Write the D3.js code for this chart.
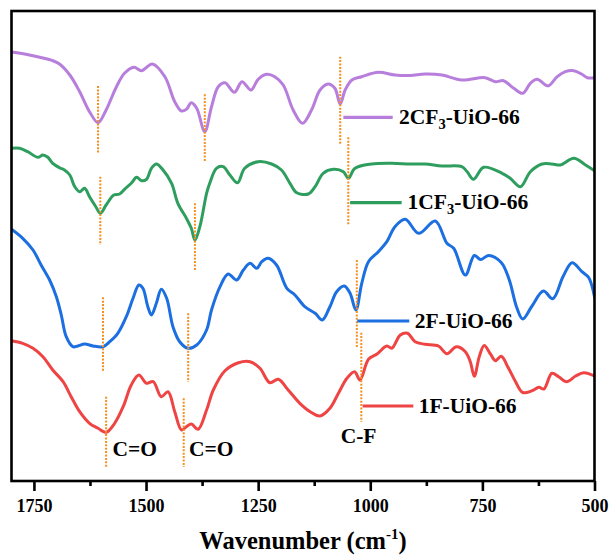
<!DOCTYPE html>
<html>
<head>
<meta charset="utf-8">
<script src="https://cdn.jsdelivr.net/npm/d3@7/dist/d3.min.js"></script>
<style>
  html, body { margin: 0; padding: 0; background: #fff; }
  svg { display: block; }
  text { font-family: "Liberation Serif", "Times New Roman", serif; font-weight: bold; fill: #000; }
</style>
</head>
<body>
<svg id="chart" width="613" height="558"></svg>
<script>
// FTIR spectra (stacked, transmittance a.u.) — [wavenumber cm^-1, value]
const spec2CF3 = [
  [1800,4.29],[1760,4.26],[1708,4.203],[1693,4.17],[1670,4.06],[1648,3.893],[1626,3.693],[1607,3.583],
  [1589,3.71],[1566,3.943],[1548,4.077],[1527,4.137],[1510,4.103],[1486,4.17],[1458,4.043],[1436,3.793],
  [1421,3.70],[1410,3.717],[1399,3.783],[1387,3.727],[1369,3.493],[1354,3.743],[1339,3.943],[1324,3.983],
  [1303,3.887],[1286,3.993],[1266,3.91],[1250,4.017],[1231,4.067],[1213,4.043],[1194,3.96],[1172,3.71],
  [1151,3.577],[1131,3.71],[1112,3.91],[1094,3.97],[1079,3.927],[1067,3.77],[1056,3.91],[1041,4.01],
  [1019,4.043],[982,4.087],[945,4.06],[911,4.055],[878,4.07],[840,4.06],[796,4.01],[744,4.033],
  [721,3.993],[703,4.003],[680,3.927],[660,3.877],[643,3.977],[628,4.017],[609,3.96],[602,3.953],
  [583,4.043],[565,4.093],[546,4.103],[528,4.067],[516,4.033],[500,4.033]
];
const spec1CF3 = [
  [1800,3.327],[1782,3.327],[1764,3.293],[1741,3.237],[1730,3.26],[1719,3.237],[1708,3.177],[1693,3.133],
  [1682,3.11],[1670,3.06],[1659,2.943],[1648,2.893],[1637,2.927],[1626,2.843],[1612,2.743],[1602,2.677],
  [1589,2.76],[1572,2.86],[1559,2.87],[1548,2.917],[1533,2.977],[1521,3.037],[1510,3.003],[1499,3.017],
  [1488,3.127],[1477,3.17],[1462,3.11],[1443,2.977],[1429,2.777],[1410,2.627],[1399,2.527],[1391,2.41],
  [1380,2.543],[1365,2.877],[1358,2.977],[1343,3.127],[1328,3.143],[1313,3.06],[1296,2.983],[1280,3.127],
  [1250,3.193],[1220,3.17],[1198,3.11],[1179,2.977],[1164,2.883],[1138,2.87],[1123,2.943],[1105,3.077],
  [1082,3.117],[1060,3.093],[1049,3.027],[1034,3.127],[997,3.17],[952,3.177],[911,3.17],[878,3.17],
  [840,3.15],[796,3.143],[784,3.093],[770,3.017],[747,3.137],[706,3.077],[688,3.027],[665,2.943],
  [643,3.093],[617,3.17],[595,3.17],[576,3.16],[546,3.227],[520,3.16],[500,3.103]
];
const spec2F = [
  [1800,2.517],[1775,2.427],[1752,2.31],[1734,2.16],[1715,2.01],[1700,1.843],[1689,1.66],[1678,1.443],
  [1663,1.343],[1652,1.35],[1637,1.37],[1618,1.35],[1596,1.343],[1581,1.393],[1563,1.477],[1544,1.643],
  [1529,1.827],[1516,1.96],[1507,1.927],[1496,1.743],[1488,1.66],[1477,1.777],[1466,1.917],[1454,1.827],
  [1440,1.543],[1425,1.393],[1406,1.327],[1387,1.36],[1365,1.51],[1354,1.71],[1335,1.943],[1317,2.07],
  [1298,2.01],[1283,2.11],[1268,2.177],[1253,2.127],[1242,2.193],[1228,2.227],[1209,2.16],[1186,1.927],
  [1168,1.86],[1146,1.743],[1123,1.677],[1107,1.61],[1090,1.743],[1075,1.893],[1058,1.95],[1045,1.877],
  [1032,1.71],[1019,1.977],[1004,2.193],[982,2.293],[963,2.393],[945,2.543],[922,2.617],[892,2.477],
  [855,2.60],[829,2.377],[814,2.327],[788,2.06],[768,2.255],[754,2.215],[736,2.255],[708,2.185],
  [690,2.01],[674,1.743],[660,1.62],[640,1.745],[614,1.90],[593,1.822],[570,2.045],[550,2.183],
  [528,2.093],[513,2.035],[500,1.843]
];
const spec1F = [
  [1800,1.403],[1775,1.377],[1752,1.327],[1730,1.243],[1708,1.11],[1685,0.993],[1667,0.843],[1648,0.693],
  [1626,0.577],[1607,0.527],[1589,0.487],[1570,0.577],[1551,0.743],[1533,0.96],[1516,1.06],[1499,0.977],
  [1484,0.993],[1466,0.843],[1451,0.893],[1436,0.693],[1421,0.51],[1410,0.543],[1399,0.57],[1384,0.517],
  [1365,0.71],[1350,0.91],[1324,1.103],[1294,1.183],[1268,1.193],[1246,1.127],[1224,0.983],[1205,1.017],
  [1183,0.91],[1157,0.777],[1134,0.693],[1112,0.65],[1090,0.727],[1071,0.877],[1052,1.027],[1035,1.093],
  [1023,1.01],[1004,1.217],[985,1.27],[963,1.35],[952,1.327],[933,1.46],[917,1.477],[900,1.393],
  [878,1.367],[848,1.35],[829,1.273],[808,1.343],[788,1.293],[777,1.193],[768,1.047],[757,1.243],
  [746,1.355],[732,1.27],[721,1.203],[708,1.247],[692,1.13],[676,0.993],[660,0.885],[639,0.903],
  [624,0.937],[613,0.92],[595,1.077],[580,1.043],[562,0.993],[542,1.05],[524,1.083],[500,1.05]
];

const seriesNames = ["2CF3-UiO-66", "1CF3-UiO-66", "2F-UiO-66", "1F-UiO-66"];
const seriesColors = ["#B77EDC", "#2E9E5E", "#1C6FE0", "#EE4444"];

// Band markers: [wavenumber, upper value, lower value]
const bandMarks = [
  [1607,3.95,3.277],[1369,3.867,3.193],[1067,4.243,3.36],
  [1602,3.043,2.36],[1391,2.777,2.11],[1049,3.437,2.56],
  [1596,1.837,1.103],[1406,1.677,0.993],[1030,2.21,1.327],
  [1589,0.843,0.14],[1416,0.827,0.14],[1020,1.483,0.593]
];

// Inline legend: line from..to (wavenumber), line level, text start, text baseline
const legendLines = [
  [1060, 950, 3.637, 936, 3.57],
  [1045, 930, 2.783, 917, 2.717],
  [1029, 913, 1.60, 901, 1.527],
  [1017, 904, 0.75, 892, 0.677]
];

// Band assignment labels: [text, wavenumber, baseline value]
const bandLabels = [["C=O", 1575, 0.25], ["C=O", 1404, 0.25], ["C-F", 1066, 0.377]];

const majorTicks = [1750, 1500, 1250, 1000, 750, 500];
const minorTicks = [1625, 1375, 1125, 875, 625];

const svg = d3.select("#chart");
const box = { left: 11.5, right: 594.5, top: 11, bottom: 481 };

const x = d3.scaleLinear().domain([1800, 500]).range([box.left, box.right]);
const y = d3.scaleLinear().domain([0, 4.7]).range([box.bottom, box.top]);

const line = d3.line()
  .x(d => x(d[0]))
  .y(d => y(d[1]))
  .curve(d3.curveCatmullRom.alpha(0.5));

svg.append("defs").append("clipPath").attr("id", "plotclip")
  .append("rect").attr("x", box.left).attr("y", box.top)
  .attr("width", box.right - box.left).attr("height", box.bottom - box.top);

const plot = svg.append("g").attr("clip-path", "url(#plotclip)");

[spec2CF3, spec1CF3, spec2F, spec1F].forEach((s, i) => {
  plot.append("path")
    .datum(s)
    .attr("d", line)
    .attr("fill", "none")
    .attr("stroke", seriesColors[i])
    .attr("stroke-width", 3)
    .attr("stroke-linejoin", "round")
    .attr("stroke-linecap", "round");
});

// Dotted band markers
svg.append("g").selectAll("line").data(bandMarks).join("line")
  .attr("x1", d => x(d[0])).attr("x2", d => x(d[0]))
  .attr("y1", d => y(d[1])).attr("y2", d => y(d[2]))
  .attr("stroke", "#F58F1E")
  .attr("stroke-width", 2)
  .attr("stroke-dasharray", "2,1.4");

// Inline legend entries
const leg = svg.append("g");
legendLines.forEach((d, i) => {
  leg.append("line")
    .attr("x1", x(d[0])).attr("x2", x(d[1]))
    .attr("y1", y(d[2])).attr("y2", y(d[2]))
    .attr("stroke", seriesColors[i]).attr("stroke-width", 3.2);
  const t = leg.append("text")
    .attr("x", x(d[3])).attr("y", y(d[4]))
    .attr("font-size", 21.5);
  const name = seriesNames[i];
  const m = name.match(/^(\d?CF)(3)(.*)$/);
  if (m) {
    t.append("tspan").text(m[1]);
    t.append("tspan").text(m[2]).attr("font-size", 14.5).attr("dy", 5);
    t.append("tspan").text(m[3]).attr("dy", -5);
  } else {
    t.text(name);
  }
});

// Band labels
svg.append("g").selectAll("text").data(bandLabels).join("text")
  .attr("x", d => x(d[1])).attr("y", d => y(d[2]))
  .attr("font-size", 21.5)
  .text(d => d[0]);

// Frame
svg.append("rect")
  .attr("x", box.left).attr("y", box.top)
  .attr("width", box.right - box.left).attr("height", box.bottom - box.top)
  .attr("fill", "none").attr("stroke", "#000").attr("stroke-width", 2.6);

// X axis
const xAxis = d3.axisBottom(x).tickValues(majorTicks).tickSize(10).tickFormat(d3.format("d"));
const gx = svg.append("g").attr("transform", `translate(0,${box.bottom})`).call(xAxis);
gx.select(".domain").remove();
gx.selectAll(".tick line").attr("stroke", "#000").attr("stroke-width", 2.6);
gx.selectAll(".tick text")
  .attr("font-size", 18)
  .attr("dy", null)
  .attr("y", 31)
  .style("font-family", "'Liberation Serif', 'Times New Roman', serif")
  .style("font-weight", "bold");

const gxm = svg.append("g").attr("transform", `translate(0,${box.bottom})`)
  .call(d3.axisBottom(x).tickValues(minorTicks).tickSize(5).tickFormat(""));
gxm.select(".domain").remove();
gxm.selectAll(".tick line").attr("stroke", "#000").attr("stroke-width", 2.6);

// Axis title
const title = svg.append("text")
  .attr("x", (box.left + box.right) / 2).attr("y", 549)
  .attr("text-anchor", "middle")
  .attr("font-size", 24.5);
title.append("tspan").text("Wavenumber (cm");
title.append("tspan").text("-1").attr("font-size", 15).attr("dy", -10);
title.append("tspan").text(")").attr("dy", 10);
</script>
</body>
</html>
